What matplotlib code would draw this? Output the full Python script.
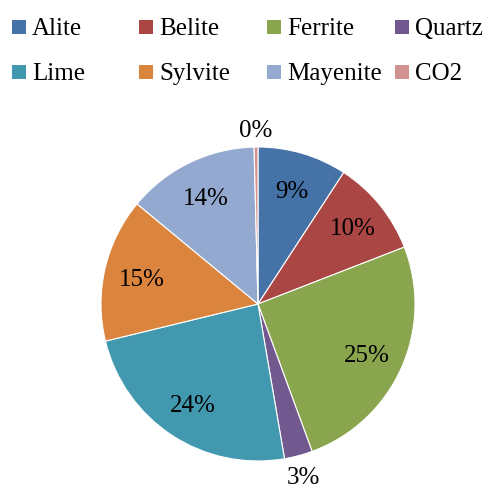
import numpy as np
import matplotlib.pyplot as plt
from matplotlib.patches import Rectangle

# mineral phases (percent)
labels = ['Alite', 'Belite', 'Ferrite', 'Quartz', 'Lime', 'Sylvite', 'Mayenite', 'CO2']
values = [9.2, 9.9, 25.3, 2.9, 23.9, 14.8, 13.6, 0.4]
colors = ['#4572A7', '#AA4643', '#89A54E', '#71588F', '#4198AF', '#DB843D', '#93A9CF', '#D19392']
pct_text = ['9%', '10%', '25%', '3%', '24%', '15%', '14%', '0%']
# label distance from centre (fraction of radius), small slices sit outside
label_r = [0.76, 0.78, 0.76, 1.13, 0.76, 0.76, 0.76, 1.12]

plt.rcParams['font.family'] = ['Liberation Serif', 'DejaVu Serif']

fig = plt.figure(figsize=(4.88, 4.88), dpi=100)
W = 488.0

# pie axes: centre (258,304) px, radius 157 px
cx, cy, R = 258, 304, 157
ax = fig.add_axes([(cx - R) / W, (W - cy - R) / W, 2 * R / W, 2 * R / W])
wedges, _ = ax.pie(values, colors=colors, startangle=90, counterclock=False,
                   radius=1, wedgeprops=dict(edgecolor='white', linewidth=0.8))
ax.set_xlim(-1, 1)
ax.set_ylim(-1, 1)
ax.set_aspect('equal')
ax.axis('off')

# percent labels at each wedge's mid angle
for w, t, r in zip(wedges, pct_text, label_r):
    a = np.deg2rad((w.theta1 + w.theta2) / 2)
    ax.text(r * np.cos(a), r * np.sin(a), t, ha='center', va='center_baseline',
            fontsize=18, color='black', clip_on=False)

# legend, 4 columns x 2 rows like excel
col_x = [12, 139, 267, 395]
row_y = [35, 80]
for i, (lab, c) in enumerate(zip(labels, colors)):
    x = col_x[i % 4]
    y = row_y[i // 4]
    fig.add_artist(Rectangle((x / W, 1 - (y - 1) / W), 14 / W, 14 / W,
                             transform=fig.transFigure, facecolor=c, edgecolor='none'))
    fig.text((x + 20) / W, 1 - y / W, lab, fontsize=18, va='baseline', ha='left')

plt.savefig('out.png', dpi=100)
